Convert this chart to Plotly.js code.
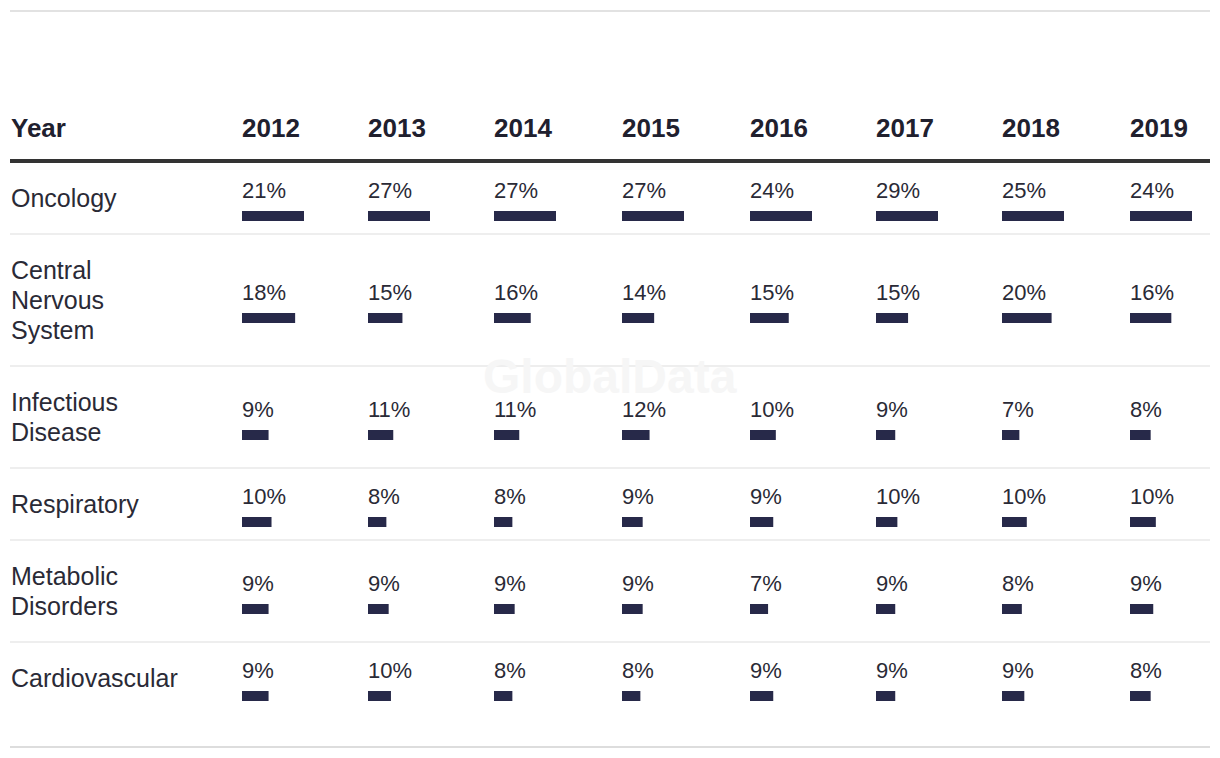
<!DOCTYPE html>
<html>
<head>
<meta charset="utf-8">
<script src="https://cdn.plot.ly/plotly-3.0.1.min.js"></script>
<style>
html,body{margin:0;padding:0;background:#fff;}
#chart{width:1220px;height:758px;}
</style>
</head>
<body>
<div id="chart"></div>
<script>
// ---- data ----
const years = ["2012","2013","2014","2015","2016","2017","2018","2019"];
const categories = ["Oncology","Central<br>Nervous<br>System","Infectious<br>Disease","Respiratory","Metabolic<br>Disorders","Cardiovascular"];
const oncology       = [21,27,27,27,24,29,25,24];
const centralNervous = [18,15,16,14,15,15,20,16];
const infectious     = [9,11,11,12,10,9,7,8];
const respiratory    = [10,8,8,9,9,10,10,10];
const metabolic      = [9,9,9,9,7,9,8,9];
const cardiovascular = [9,10,8,8,9,9,9,8];
const headerLabel = "Year";
const watermark = "GlobalData";

// ---- layout constants ----
const W = 1220, H = 758;
const series = [oncology, centralNervous, infectious, respiratory, metabolic, cardiovascular];
const colLeft = [242,368,494,622,750,876,1002,1130];
const barMaxPx = 62;
const lineH = 30, rowPad = 21;
const FONT = "Liberation Sans, Arial, sans-serif";
const txtColor = "#20202e";
const lblColor = "#2a2a36";
const barColor = "#272949";

// row geometry
let rowY = 162;
const rowTops = [], rowCenters = [];
categories.forEach(c => {
  const n = c.split("<br>").length;
  const h = rowPad*2 + lineH*n;
  rowTops.push(rowY);
  rowCenters.push(rowY + h/2);
  rowY += h;
});
const bottomLine = 747;

const traces = [];
const annotations = [];
const layout = {
  width: W, height: H,
  margin: {l:0, r:0, t:0, b:0},
  paper_bgcolor: "#fff", plot_bgcolor: "rgba(0,0,0,0)",
  showlegend: false,
  yaxis: {range: [H, 0], domain: [0,1], visible: false, fixedrange: true},
  shapes: [],
  annotations: annotations
};

annotations.push({
  xref: "paper", yref: "y", x: 0.5, y: 376, xanchor: "center", yanchor: "middle",
  text: "<b>" + watermark + "</b>", showarrow: false,
  font: {family: FONT, size: 48, color: "#f6f6f6"}
});

years.forEach((yr, j) => {
  const ax = j === 0 ? "xaxis" : "xaxis" + (j+1);
  const ref = j === 0 ? "x" : "x" + (j+1);
  const vals = series.map(s => s[j]);
  const mx = Math.max(...vals);
  layout[ax] = {
    domain: [colLeft[j]/W, (colLeft[j]+barMaxPx)/W],
    range: [0, mx], visible: false, fixedrange: true, anchor: "y"
  };
  traces.push({
    type: "bar", orientation: "h",
    x: vals,
    y: rowCenters.map(c => c + 18),
    width: 10,
    xaxis: ref, yaxis: "y",
    marker: {color: barColor},
    hoverinfo: "skip"
  });
  annotations.push({
    xref: ref, yref: "y", x: 0, y: 128, xanchor: "left", yanchor: "middle",
    text: "<b>" + yr + "</b>", showarrow: false,
    font: {family: FONT, size: 26, color: txtColor}, xshift: -2
  });
  vals.forEach((v, i) => {
    annotations.push({
      xref: ref, yref: "y", x: 0, y: rowCenters[i] - 7.5, xanchor: "left", yanchor: "middle",
      text: Math.round(v) + "%", showarrow: false,
      font: {family: FONT, size: 22, color: lblColor}, xshift: -2
    });
  });
});

annotations.push({
  xref: "paper", yref: "y", x: 11/W, y: 128, xanchor: "left", yanchor: "middle",
  text: "<b>" + headerLabel + "</b>", showarrow: false,
  font: {family: FONT, size: 26, color: txtColor}, xshift: -2
});
categories.forEach((c, i) => {
  const lines = c.split("<br>");
  lines.forEach((ln, k) => {
    annotations.push({
      xref: "paper", yref: "y", x: 11/W,
      y: rowCenters[i] + (k - (lines.length - 1)/2) * lineH,
      xanchor: "left", yanchor: "middle",
      text: ln, showarrow: false, align: "left",
      font: {family: FONT, size: 25, color: lblColor}, xshift: -2
    });
  });
});

const hline = (y, color, w) => ({type: "line", xref: "paper", yref: "y", x0: 10/W, x1: 1210/W, y0: y, y1: y, line: {color: color, width: w}, layer: "below"});
layout.shapes.push(hline(11, "#e2e2e2", 2));
layout.shapes.push(hline(161, "#333333", 4));
rowTops.slice(1).forEach(t => layout.shapes.push(hline(t, "#eeeeee", 2)));
layout.shapes.push(hline(bottomLine, "#dddddd", 2));

Plotly.newPlot("chart", traces, layout, {displayModeBar: false, staticPlot: true});
</script>
</body>
</html>
